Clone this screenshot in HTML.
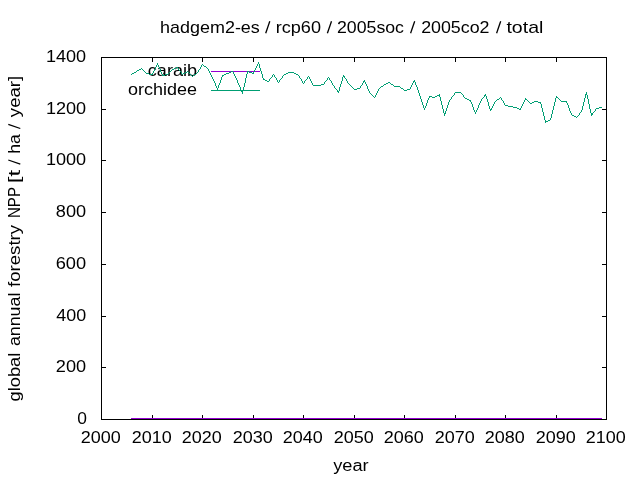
<!DOCTYPE html>
<html><head><meta charset="utf-8">
<style>
html,body{margin:0;padding:0;background:#fff;width:640px;height:480px;overflow:hidden}
svg{display:block}
text{font-family:"Liberation Sans", sans-serif;font-size:16px;fill:#000}
.t{will-change:transform}
</style></head><body>
<svg width="640" height="480" viewBox="0 0 640 480">
<rect x="0" y="0" width="640" height="480" fill="#fff"/>
<g fill="#000" shape-rendering="crispEdges">
<rect x="101" y="57" width="506" height="1"/>
<rect x="101" y="419" width="506" height="1"/>
<rect x="101" y="57" width="1" height="363"/>
<rect x="606" y="57" width="1" height="363"/>
<rect x="102" y="367" width="4" height="1"/>
<rect x="602" y="367" width="4" height="1"/>
<rect x="102" y="316" width="4" height="1"/>
<rect x="602" y="316" width="4" height="1"/>
<rect x="102" y="264" width="4" height="1"/>
<rect x="602" y="264" width="4" height="1"/>
<rect x="102" y="212" width="4" height="1"/>
<rect x="602" y="212" width="4" height="1"/>
<rect x="102" y="160" width="4" height="1"/>
<rect x="602" y="160" width="4" height="1"/>
<rect x="102" y="109" width="4" height="1"/>
<rect x="602" y="109" width="4" height="1"/>
<rect x="152" y="415" width="1" height="4"/>
<rect x="152" y="58" width="1" height="4"/>
<rect x="202" y="415" width="1" height="4"/>
<rect x="202" y="58" width="1" height="4"/>
<rect x="253" y="415" width="1" height="4"/>
<rect x="253" y="58" width="1" height="4"/>
<rect x="303" y="415" width="1" height="4"/>
<rect x="303" y="58" width="1" height="4"/>
<rect x="354" y="415" width="1" height="4"/>
<rect x="354" y="58" width="1" height="4"/>
<rect x="404" y="415" width="1" height="4"/>
<rect x="404" y="58" width="1" height="4"/>
<rect x="455" y="415" width="1" height="4"/>
<rect x="455" y="58" width="1" height="4"/>
<rect x="505" y="415" width="1" height="4"/>
<rect x="505" y="58" width="1" height="4"/>
<rect x="556" y="415" width="1" height="4"/>
<rect x="556" y="58" width="1" height="4"/>
</g>
<g class="t">
<text transform="translate(160.04,33) scale(1.1221,1)">hadgem2-es</text>
<text transform="translate(275.73,33) scale(1.1307,1)">rcp60</text>
<text transform="translate(336.97,33) scale(1.1082,1)">2005soc</text>
<text transform="translate(421.16,33) scale(1.1140,1)">2005co2</text>
<text transform="translate(506.39,33) scale(1.2225,1)">total</text>
<text transform="translate(77.22,424) scale(1.0885,1)">0</text>
<text transform="translate(55.85,372) scale(1.1350,1)">200</text>
<text transform="translate(56.28,321) scale(1.1184,1)">400</text>
<text transform="translate(55.70,269) scale(1.1406,1)">600</text>
<text transform="translate(55.85,217) scale(1.1350,1)">800</text>
<text transform="translate(45.89,165) scale(1.1319,1)">1000</text>
<text transform="translate(45.89,114) scale(1.1319,1)">1200</text>
<text transform="translate(45.89,62) scale(1.1319,1)">1400</text>
<text transform="translate(80.66,443) scale(1.1241,1)">2000</text>
<text transform="translate(131.66,443) scale(1.1241,1)">2010</text>
<text transform="translate(181.66,443) scale(1.1241,1)">2020</text>
<text transform="translate(232.66,443) scale(1.1241,1)">2030</text>
<text transform="translate(282.66,443) scale(1.1241,1)">2040</text>
<text transform="translate(333.66,443) scale(1.1241,1)">2050</text>
<text transform="translate(383.66,443) scale(1.1241,1)">2060</text>
<text transform="translate(434.66,443) scale(1.1241,1)">2070</text>
<text transform="translate(484.66,443) scale(1.1241,1)">2080</text>
<text transform="translate(535.66,443) scale(1.1241,1)">2090</text>
<text transform="translate(585.66,443) scale(1.1241,1)">2100</text>
<text transform="translate(333.26,471) scale(1.1382,1)">year</text>
<text transform="translate(20,401.51) rotate(-90) scale(1.1439,1)">global</text>
<text transform="translate(20,346.10) rotate(-90) scale(1.1137,1)">annual</text>
<text transform="translate(20,286.89) rotate(-90) scale(1.1623,1)">forestry</text>
<text transform="translate(20,217.99) rotate(-90) scale(0.9404,1)">NPP</text>
<text transform="translate(20,183.31) rotate(-90) scale(1.5213,1)">[t</text>
<text transform="translate(20,153.79) rotate(-90) scale(1.1038,1)">ha</text>
<text transform="translate(20,117.15) rotate(-90) scale(1.1620,1)">year]</text>
<g stroke="#000" stroke-width="1.3"><line x1="265.7" y1="33.2" x2="269.80" y2="21.3"/>
<line x1="327.4" y1="33.2" x2="331.50" y2="21.3"/>
<line x1="410.6" y1="33.2" x2="414.70" y2="21.3"/>
<line x1="496.6" y1="33.2" x2="500.70" y2="21.3"/>
<line x1="20.3" y1="164.10" x2="8.3" y2="160.00"/>
<line x1="20.3" y1="128.50" x2="8.3" y2="124.40"/></g>
<text transform="translate(147.79,76) scale(1.1302,1)">caraib</text>
<text transform="translate(128.05,95) scale(1.1250,1)">orchidee</text>
</g>
<g shape-rendering="crispEdges">
<rect x="211" y="71" width="49" height="1" fill="#9400d3"/>
<rect x="131" y="418" width="471" height="1" fill="#9400d3"/>
<rect x="211" y="90" width="49" height="1" fill="#009e73"/>
</g>
<path d="M258 62h1v1h-1zM157 63h1v1h-1zM258 63h1v1h-1zM157 64h1v1h-1zM202 64h1v1h-1zM257 64h1v1h-1zM259 64h1v1h-1zM156 65h1v1h-1zM158 65h1v1h-1zM201 65h1v1h-1zM203 65h1v1h-1zM257 65h1v1h-1zM259 65h1v1h-1zM156 66h1v1h-1zM158 66h1v1h-1zM201 66h1v1h-1zM204 66h2v1h-2zM256 66h1v1h-1zM259 66h1v1h-1zM155 67h1v1h-1zM159 67h1v1h-1zM176 67h2v1h-2zM200 67h1v1h-1zM206 67h1v1h-1zM256 67h1v1h-1zM259 67h1v1h-1zM141 68h1v1h-1zM155 68h1v1h-1zM159 68h1v1h-1zM174 68h2v1h-2zM178 68h1v1h-1zM200 68h1v1h-1zM207 68h1v1h-1zM255 68h1v1h-1zM260 68h1v1h-1zM139 69h2v1h-2zM142 69h1v1h-1zM154 69h1v1h-1zM160 69h1v1h-1zM172 69h2v1h-2zM178 69h1v1h-1zM199 69h1v1h-1zM208 69h1v1h-1zM255 69h1v1h-1zM260 69h1v1h-1zM137 70h2v1h-2zM143 70h1v1h-1zM154 70h1v1h-1zM160 70h1v1h-1zM171 70h1v1h-1zM179 70h1v1h-1zM198 70h1v1h-1zM208 70h1v1h-1zM254 70h1v1h-1zM260 70h1v1h-1zM136 71h1v1h-1zM144 71h1v1h-1zM153 71h1v1h-1zM160 71h1v1h-1zM170 71h1v1h-1zM180 71h1v1h-1zM187 71h1v1h-1zM198 71h1v1h-1zM209 71h1v1h-1zM231 71h2v1h-2zM247 71h2v1h-2zM254 71h1v1h-1zM261 71h1v1h-1zM134 72h2v1h-2zM145 72h1v1h-1zM153 72h1v1h-1zM161 72h1v1h-1zM169 72h1v1h-1zM181 72h1v1h-1zM185 72h2v1h-2zM188 72h1v1h-1zM197 72h1v1h-1zM209 72h1v1h-1zM229 72h2v1h-2zM233 72h1v1h-1zM247 72h1v1h-1zM249 72h3v1h-3zM253 72h1v1h-1zM261 72h1v1h-1zM288 72h6v1h-6zM132 73h2v1h-2zM146 73h3v1h-3zM152 73h1v1h-1zM161 73h1v1h-1zM168 73h1v1h-1zM181 73h1v1h-1zM183 73h2v1h-2zM189 73h1v1h-1zM196 73h1v1h-1zM210 73h1v1h-1zM226 73h3v1h-3zM233 73h1v1h-1zM247 73h1v1h-1zM252 73h2v1h-2zM261 73h1v1h-1zM286 73h2v1h-2zM294 73h2v1h-2zM131 74h1v1h-1zM149 74h4v1h-4zM162 74h1v1h-1zM165 74h3v1h-3zM182 74h1v1h-1zM190 74h1v1h-1zM194 74h2v1h-2zM210 74h1v1h-1zM224 74h2v1h-2zM234 74h1v1h-1zM246 74h1v1h-1zM262 74h1v1h-1zM273 74h1v1h-1zM284 74h2v1h-2zM296 74h2v1h-2zM162 75h3v1h-3zM191 75h1v1h-1zM193 75h1v1h-1zM211 75h1v1h-1zM222 75h2v1h-2zM234 75h1v1h-1zM246 75h1v1h-1zM262 75h1v1h-1zM272 75h1v1h-1zM274 75h1v1h-1zM283 75h1v1h-1zM298 75h1v1h-1zM343 75h1v1h-1zM192 76h1v1h-1zM211 76h1v1h-1zM222 76h1v1h-1zM235 76h1v1h-1zM246 76h1v1h-1zM262 76h1v1h-1zM272 76h1v1h-1zM274 76h1v1h-1zM282 76h1v1h-1zM299 76h1v1h-1zM308 76h1v1h-1zM343 76h2v1h-2zM212 77h1v1h-1zM221 77h1v1h-1zM235 77h1v1h-1zM246 77h1v1h-1zM262 77h1v1h-1zM271 77h1v1h-1zM275 77h1v1h-1zM282 77h1v1h-1zM299 77h1v1h-1zM307 77h1v1h-1zM309 77h1v1h-1zM328 77h1v1h-1zM342 77h1v1h-1zM344 77h1v1h-1zM212 78h1v1h-1zM221 78h1v1h-1zM236 78h1v1h-1zM245 78h1v1h-1zM263 78h1v1h-1zM270 78h1v1h-1zM276 78h1v1h-1zM281 78h1v1h-1zM300 78h1v1h-1zM307 78h1v1h-1zM309 78h1v1h-1zM327 78h1v1h-1zM329 78h1v1h-1zM342 78h1v1h-1zM345 78h1v1h-1zM213 79h1v1h-1zM221 79h1v1h-1zM236 79h1v1h-1zM245 79h1v1h-1zM263 79h2v1h-2zM269 79h1v1h-1zM276 79h1v1h-1zM280 79h1v1h-1zM301 79h1v1h-1zM306 79h1v1h-1zM310 79h1v1h-1zM327 79h1v1h-1zM329 79h1v1h-1zM342 79h1v1h-1zM346 79h1v1h-1zM213 80h1v1h-1zM220 80h1v1h-1zM237 80h1v1h-1zM245 80h1v1h-1zM265 80h2v1h-2zM269 80h1v1h-1zM277 80h1v1h-1zM279 80h1v1h-1zM301 80h1v1h-1zM305 80h1v1h-1zM310 80h1v1h-1zM326 80h1v1h-1zM330 80h1v1h-1zM342 80h1v1h-1zM346 80h1v1h-1zM364 80h1v1h-1zM414 80h1v1h-1zM214 81h1v1h-1zM220 81h1v1h-1zM237 81h1v1h-1zM245 81h1v1h-1zM267 81h2v1h-2zM277 81h1v1h-1zM279 81h1v1h-1zM302 81h1v1h-1zM304 81h1v1h-1zM311 81h1v1h-1zM325 81h1v1h-1zM331 81h1v1h-1zM341 81h1v1h-1zM347 81h1v1h-1zM363 81h2v1h-2zM413 81h2v1h-2zM214 82h1v1h-1zM220 82h1v1h-1zM237 82h1v1h-1zM245 82h1v1h-1zM278 82h1v1h-1zM302 82h1v1h-1zM304 82h1v1h-1zM311 82h1v1h-1zM324 82h1v1h-1zM331 82h1v1h-1zM341 82h1v1h-1zM347 82h1v1h-1zM363 82h1v1h-1zM365 82h1v1h-1zM388 82h2v1h-2zM413 82h1v1h-1zM415 82h1v1h-1zM215 83h1v1h-1zM219 83h1v1h-1zM238 83h1v1h-1zM244 83h1v1h-1zM303 83h1v1h-1zM312 83h1v1h-1zM324 83h1v1h-1zM332 83h1v1h-1zM341 83h1v1h-1zM348 83h1v1h-1zM362 83h1v1h-1zM365 83h1v1h-1zM386 83h2v1h-2zM390 83h1v1h-1zM412 83h1v1h-1zM415 83h1v1h-1zM215 84h1v1h-1zM219 84h1v1h-1zM238 84h1v1h-1zM244 84h1v1h-1zM312 84h1v1h-1zM321 84h3v1h-3zM332 84h1v1h-1zM340 84h1v1h-1zM349 84h1v1h-1zM362 84h1v1h-1zM366 84h1v1h-1zM384 84h2v1h-2zM391 84h2v1h-2zM412 84h1v1h-1zM415 84h1v1h-1zM215 85h1v1h-1zM218 85h1v1h-1zM239 85h1v1h-1zM244 85h1v1h-1zM313 85h8v1h-8zM333 85h1v1h-1zM340 85h1v1h-1zM350 85h1v1h-1zM361 85h1v1h-1zM366 85h1v1h-1zM383 85h1v1h-1zM393 85h1v1h-1zM411 85h1v1h-1zM416 85h1v1h-1zM216 86h1v1h-1zM218 86h1v1h-1zM239 86h1v1h-1zM244 86h1v1h-1zM334 86h1v1h-1zM340 86h1v1h-1zM351 86h1v1h-1zM360 86h1v1h-1zM367 86h1v1h-1zM381 86h2v1h-2zM394 86h6v1h-6zM411 86h1v1h-1zM416 86h1v1h-1zM216 87h1v1h-1zM218 87h1v1h-1zM240 87h1v1h-1zM243 87h1v1h-1zM334 87h1v1h-1zM339 87h1v1h-1zM352 87h1v1h-1zM360 87h1v1h-1zM367 87h1v1h-1zM380 87h1v1h-1zM400 87h1v1h-1zM410 87h1v1h-1zM417 87h1v1h-1zM217 88h1v1h-1zM240 88h1v1h-1zM243 88h1v1h-1zM335 88h1v1h-1zM339 88h1v1h-1zM353 88h1v1h-1zM357 88h3v1h-3zM367 88h1v1h-1zM379 88h1v1h-1zM401 88h2v1h-2zM410 88h1v1h-1zM417 88h1v1h-1zM217 89h1v1h-1zM240 89h1v1h-1zM243 89h1v1h-1zM336 89h1v1h-1zM339 89h1v1h-1zM354 89h3v1h-3zM368 89h1v1h-1zM378 89h1v1h-1zM403 89h1v1h-1zM407 89h3v1h-3zM417 89h1v1h-1zM241 90h1v1h-1zM243 90h1v1h-1zM337 90h1v1h-1zM339 90h1v1h-1zM368 90h1v1h-1zM378 90h1v1h-1zM404 90h3v1h-3zM418 90h1v1h-1zM241 91h2v1h-2zM337 91h2v1h-2zM369 91h1v1h-1zM377 91h1v1h-1zM418 91h1v1h-1zM242 92h1v1h-1zM338 92h1v1h-1zM369 92h1v1h-1zM377 92h1v1h-1zM418 92h1v1h-1zM455 92h6v1h-6zM586 92h1v1h-1zM242 93h1v1h-1zM370 93h1v1h-1zM376 93h1v1h-1zM419 93h1v1h-1zM454 93h1v1h-1zM461 93h1v1h-1zM586 93h1v1h-1zM371 94h1v1h-1zM376 94h1v1h-1zM419 94h1v1h-1zM439 94h1v1h-1zM454 94h1v1h-1zM462 94h1v1h-1zM485 94h1v1h-1zM585 94h2v1h-2zM372 95h1v1h-1zM375 95h1v1h-1zM419 95h1v1h-1zM437 95h3v1h-3zM453 95h1v1h-1zM463 95h1v1h-1zM484 95h2v1h-2zM585 95h1v1h-1zM587 95h1v1h-1zM373 96h1v1h-1zM375 96h1v1h-1zM420 96h1v1h-1zM429 96h3v1h-3zM435 96h2v1h-2zM439 96h1v1h-1zM452 96h1v1h-1zM463 96h1v1h-1zM484 96h1v1h-1zM486 96h1v1h-1zM556 96h1v1h-1zM585 96h1v1h-1zM587 96h1v1h-1zM374 97h1v1h-1zM420 97h1v1h-1zM429 97h1v1h-1zM432 97h3v1h-3zM440 97h1v1h-1zM451 97h1v1h-1zM464 97h1v1h-1zM483 97h1v1h-1zM486 97h1v1h-1zM500 97h1v1h-1zM556 97h2v1h-2zM585 97h1v1h-1zM587 97h1v1h-1zM420 98h1v1h-1zM428 98h1v1h-1zM440 98h1v1h-1zM451 98h1v1h-1zM465 98h2v1h-2zM482 98h1v1h-1zM486 98h1v1h-1zM499 98h1v1h-1zM501 98h1v1h-1zM525 98h1v1h-1zM555 98h1v1h-1zM558 98h1v1h-1zM584 98h1v1h-1zM587 98h1v1h-1zM421 99h1v1h-1zM428 99h1v1h-1zM440 99h1v1h-1zM450 99h1v1h-1zM467 99h2v1h-2zM481 99h1v1h-1zM487 99h1v1h-1zM497 99h2v1h-2zM501 99h1v1h-1zM525 99h2v1h-2zM555 99h1v1h-1zM559 99h1v1h-1zM584 99h1v1h-1zM588 99h1v1h-1zM421 100h1v1h-1zM427 100h1v1h-1zM440 100h1v1h-1zM449 100h1v1h-1zM469 100h2v1h-2zM481 100h1v1h-1zM487 100h1v1h-1zM496 100h1v1h-1zM502 100h1v1h-1zM524 100h1v1h-1zM527 100h1v1h-1zM555 100h1v1h-1zM560 100h1v1h-1zM584 100h1v1h-1zM588 100h1v1h-1zM421 101h1v1h-1zM427 101h1v1h-1zM441 101h1v1h-1zM449 101h1v1h-1zM470 101h1v1h-1zM480 101h1v1h-1zM487 101h1v1h-1zM495 101h1v1h-1zM503 101h1v1h-1zM524 101h1v1h-1zM528 101h1v1h-1zM534 101h4v1h-4zM555 101h1v1h-1zM561 101h6v1h-6zM584 101h1v1h-1zM588 101h1v1h-1zM422 102h1v1h-1zM427 102h1v1h-1zM441 102h1v1h-1zM448 102h1v1h-1zM471 102h1v1h-1zM480 102h1v1h-1zM488 102h1v1h-1zM494 102h1v1h-1zM503 102h1v1h-1zM523 102h1v1h-1zM529 102h1v1h-1zM532 102h2v1h-2zM538 102h3v1h-3zM554 102h1v1h-1zM566 102h1v1h-1zM583 102h1v1h-1zM588 102h1v1h-1zM422 103h1v1h-1zM426 103h1v1h-1zM441 103h1v1h-1zM448 103h1v1h-1zM471 103h1v1h-1zM479 103h1v1h-1zM488 103h1v1h-1zM494 103h1v1h-1zM504 103h1v1h-1zM523 103h1v1h-1zM530 103h2v1h-2zM540 103h1v1h-1zM554 103h1v1h-1zM567 103h1v1h-1zM583 103h1v1h-1zM588 103h1v1h-1zM422 104h1v1h-1zM426 104h1v1h-1zM441 104h1v1h-1zM448 104h1v1h-1zM472 104h1v1h-1zM479 104h1v1h-1zM488 104h1v1h-1zM493 104h1v1h-1zM504 104h1v1h-1zM522 104h1v1h-1zM541 104h1v1h-1zM554 104h1v1h-1zM567 104h1v1h-1zM583 104h1v1h-1zM589 104h1v1h-1zM423 105h1v1h-1zM426 105h1v1h-1zM442 105h1v1h-1zM447 105h1v1h-1zM472 105h1v1h-1zM478 105h1v1h-1zM488 105h1v1h-1zM493 105h1v1h-1zM505 105h3v1h-3zM522 105h1v1h-1zM541 105h1v1h-1zM554 105h1v1h-1zM568 105h1v1h-1zM583 105h1v1h-1zM589 105h1v1h-1zM423 106h1v1h-1zM425 106h1v1h-1zM442 106h1v1h-1zM447 106h1v1h-1zM472 106h1v1h-1zM478 106h1v1h-1zM489 106h1v1h-1zM492 106h1v1h-1zM508 106h5v1h-5zM521 106h1v1h-1zM541 106h1v1h-1zM553 106h1v1h-1zM568 106h1v1h-1zM582 106h1v1h-1zM589 106h1v1h-1zM423 107h1v1h-1zM425 107h1v1h-1zM442 107h1v1h-1zM447 107h1v1h-1zM473 107h1v1h-1zM478 107h1v1h-1zM489 107h1v1h-1zM492 107h1v1h-1zM513 107h4v1h-4zM521 107h1v1h-1zM541 107h1v1h-1zM553 107h1v1h-1zM568 107h1v1h-1zM582 107h1v1h-1zM589 107h1v1h-1zM599 107h3v1h-3zM424 108h1v1h-1zM442 108h1v1h-1zM446 108h1v1h-1zM473 108h1v1h-1zM477 108h1v1h-1zM489 108h1v1h-1zM491 108h1v1h-1zM517 108h2v1h-2zM520 108h1v1h-1zM542 108h1v1h-1zM553 108h1v1h-1zM569 108h1v1h-1zM582 108h1v1h-1zM589 108h1v1h-1zM596 108h3v1h-3zM424 109h1v1h-1zM443 109h1v1h-1zM446 109h1v1h-1zM473 109h1v1h-1zM477 109h1v1h-1zM490 109h2v1h-2zM519 109h2v1h-2zM542 109h1v1h-1zM553 109h1v1h-1zM569 109h1v1h-1zM582 109h1v1h-1zM590 109h1v1h-1zM595 109h1v1h-1zM443 110h1v1h-1zM446 110h1v1h-1zM474 110h1v1h-1zM476 110h1v1h-1zM490 110h1v1h-1zM542 110h1v1h-1zM552 110h1v1h-1zM569 110h1v1h-1zM581 110h1v1h-1zM590 110h1v1h-1zM595 110h1v1h-1zM443 111h1v1h-1zM445 111h1v1h-1zM474 111h1v1h-1zM476 111h1v1h-1zM542 111h1v1h-1zM552 111h1v1h-1zM570 111h1v1h-1zM581 111h1v1h-1zM590 111h1v1h-1zM594 111h1v1h-1zM443 112h1v1h-1zM445 112h1v1h-1zM475 112h1v1h-1zM543 112h1v1h-1zM552 112h1v1h-1zM570 112h1v1h-1zM580 112h1v1h-1zM590 112h1v1h-1zM593 112h1v1h-1zM444 113h2v1h-2zM475 113h1v1h-1zM543 113h1v1h-1zM552 113h1v1h-1zM571 113h1v1h-1zM579 113h1v1h-1zM591 113h2v1h-2zM444 114h1v1h-1zM543 114h1v1h-1zM551 114h1v1h-1zM571 114h1v1h-1zM579 114h1v1h-1zM591 114h2v1h-2zM444 115h1v1h-1zM543 115h1v1h-1zM551 115h1v1h-1zM572 115h2v1h-2zM578 115h1v1h-1zM591 115h1v1h-1zM544 116h1v1h-1zM551 116h1v1h-1zM574 116h2v1h-2zM577 116h1v1h-1zM544 117h1v1h-1zM551 117h1v1h-1zM576 117h1v1h-1zM544 118h1v1h-1zM550 118h1v1h-1zM544 119h1v1h-1zM550 119h1v1h-1zM545 120h1v1h-1zM548 120h2v1h-2zM545 121h3v1h-3zM545 122h1v1h-1z" fill="#009e73" shape-rendering="crispEdges"/>
<rect x="101" y="419" width="506" height="1" fill="#000" shape-rendering="crispEdges"/>
</svg>
</body></html>
